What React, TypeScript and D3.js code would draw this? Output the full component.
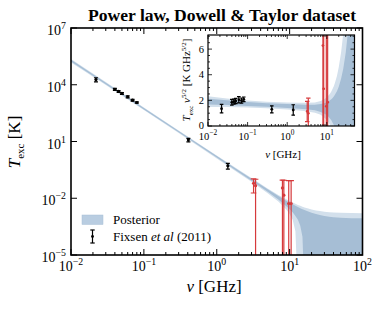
import React from "react";
import * as d3 from "d3";

const W = 382;
const H = 311;
const FONT = "'Liberation Serif', 'DejaVu Serif', serif";

// main panel box
const M = {left: 71, right: 362.5, top: 28, bottom: 255};
// inset box
const I = {left: 208, right: 354.5, top: 35, bottom: 126};

// low frequency data, T_exc in K
const obsFreq = [0.022, 0.04, 0.045, 0.05, 0.06, 0.07, 0.08, 0.408, 1.42];
const obsTemp = [18800, 5780, 4420, 3490, 2320, 1530, 1150, 12.2, 0.52];
const obsErr = [4600, 690, 470, 360, 280, 155, 100, 2.6, 0.17];

// ARCADE 2 points (red), T_exc in K
const arcFreq = [3.2, 3.41, 7.97, 8.33, 9.72, 10.49];
const arcTemp = [0.062, 0.046, 0.035, 0.0145, 0.0052, 0.0052];
const arcErr = [0.043, 0.055, 0.055, 0.075, 0.08, 0.08];

// posterior bands, as T_exc nu^{5/2} in K GHz^{5/2}
const bandFreq = [0.01, 0.03, 0.1, 0.3, 1, 2, 3, 5, 7, 9, 10, 11, 12, 13, 14, 15, 16, 18, 20, 23, 26, 30, 35, 40, 50, 70, 100];
const bandLo95 = [1.48, 1.49, 1.45, 1.38, 1.28, 1.2, 1.16, 1.04, 0.87, 0.61, 0.46, 0.29, 0.09, -0.14, -0.4, -0.68, -0.99, -1.7, -2.56, -4.06, -5.89, -8.86, -13.5, -19.3, -34.4, -81.1, -199];
const bandLo68 = [1.68, 1.64, 1.57, 1.5, 1.41, 1.35, 1.31, 1.22, 1.1, 0.93, 0.83, 0.72, 0.58, 0.44, 0.26, 0.08, -0.12, -0.58, -1.13, -2.12, -3.31, -5.24, -8.26, -12.0, -21.9, -52.2, -129];
const bandHi68 = [2.12, 2.0, 1.87, 1.78, 1.71, 1.68, 1.66, 1.66, 1.71, 1.8, 1.85, 1.92, 2.0, 2.09, 2.19, 2.3, 2.43, 2.72, 3.07, 3.7, 4.47, 5.72, 7.68, 10.1, 16.5, 36.3, 86.5];
const bandHi95 = [2.32, 2.15, 1.99, 1.9, 1.84, 1.82, 1.81, 1.84, 1.95, 2.13, 2.24, 2.37, 2.52, 2.69, 2.9, 3.11, 3.35, 3.91, 4.58, 5.77, 7.22, 9.58, 13.3, 17.9, 30.0, 67.3, 162];

const mainXTicks = [1e-2, 1e-1, 1, 10, 100];
const mainYTicks = [1e-5, 1e-2, 1e1, 1e4, 1e7];
const insetXTicks = [1e-2, 1e-1, 1, 10];
const insetYTicks = [0, 2, 4, 6];

const BAND_LIGHT = "#d3e0ec";
const BAND_DARK = "#a6bed5";
const RED = "#d63a3c";

const FLOOR = 1e-7;

function logMinor(lo: number, hi: number, max: number) {
    const out: number[] = [];
    for (let e = lo; e < hi; e++)
        for (let m = 2; m <= 9; m++) {
            const v = m * Math.pow(10, e);
            if (v <= max) out.push(v);
        }
    return out;
}

function Pow({x, y, e, size, anchor}: {x: number; y: number; e: number; size: number; anchor: string}) {
    const s = e < 0 ? "\u2212" + -e : String(e);
    return (
        <text x={x} y={y} fontSize={size} textAnchor={anchor} fontFamily={FONT}>
            10<tspan dy={-size * 0.42} fontSize={size * 0.7}>{s}</tspan>
        </text>
    );
}

function ErrBar({cx, cy, y0, y1, color, cap, r}: any) {
    return (
        <g stroke={color} strokeWidth={1.2} fill={color}>
            <line x1={cx} x2={cx} y1={y0} y2={y1}/>
            <line x1={cx - cap} x2={cx + cap} y1={y0} y2={y0}/>
            <line x1={cx - cap} x2={cx + cap} y1={y1} y2={y1}/>
            <circle cx={cx} cy={cy} r={r} stroke="none"/>
        </g>
    );
}

export default function App() {
    const x = d3.scaleLog().domain([1e-2, 1e2]).range([M.left, M.right]);
    const y = d3.scaleLog().domain([1e-5, 1e7]).range([M.bottom, M.top]);
    const ix = d3.scaleLog().domain([1e-2, 50]).range([I.left, I.right]);
    const iy = d3.scaleLinear().domain([0, 7.1]).range([I.bottom, I.top]);

    const idx = bandFreq.map((_, i) => i);
    const toT = (s: number, nu: number) => Math.max(s / Math.pow(nu, 2.5), FLOOR);

    const mainArea = (lo: number[], hi: number[]) =>
        d3.area<number>()
            .x(i => x(bandFreq[i]))
            .y0(i => y(toT(lo[i], bandFreq[i])))
            .y1(i => y(toT(hi[i], bandFreq[i])))(idx) || "";

    const insetArea = (lo: number[], hi: number[]) =>
        d3.area<number>()
            .x(i => ix(bandFreq[i]))
            .y0(i => iy(lo[i]))
            .y1(i => iy(hi[i]))(idx) || "";

    const mainMinor = logMinor(-2, 2, 100);
    const insetMinor = logMinor(-2, 2, 50);
    const insetYMinor = d3.range(0.5, 7.01, 0.5).filter(v => v % 2 !== 0);

    const scaled = (t: number, nu: number) => t * Math.pow(nu, 2.5);

    return (
        <svg width={W} height={H} style={{position: "absolute", left: 0, top: 0}} fontFamily={FONT}>
            <defs>
                <clipPath id="mainClip">
                    <rect x={M.left} y={M.top} width={M.right - M.left} height={M.bottom - M.top}/>
                </clipPath>
                <clipPath id="insetClip">
                    <rect x={I.left} y={I.top} width={I.right - I.left} height={I.bottom - I.top}/>
                </clipPath>
            </defs>
            <rect width={W} height={H} fill="#fff"/>

            <text x={222} y={21} textAnchor="middle" fontSize={16} fontWeight="bold"
                  textLength={268} lengthAdjust="spacingAndGlyphs">
                Power law, Dowell &amp; Taylor dataset
            </text>

            {/* main panel */}
            <g clipPath="url(#mainClip)">
                <path d={mainArea(bandLo95, bandHi95)} fill={BAND_LIGHT}/>
                <path d={mainArea(bandLo68, bandHi68)} fill={BAND_DARK}/>
                {obsFreq.map((f, i) => (
                    <ErrBar key={"o" + i} cx={x(f)} cy={y(obsTemp[i])}
                            y0={y(obsTemp[i] + obsErr[i])} y1={y(Math.max(obsTemp[i] - obsErr[i], FLOOR))}
                            color="#000" cap={2} r={1.6}/>
                ))}
                {arcFreq.map((f, i) => (
                    <ErrBar key={"a" + i} cx={x(f)} cy={y(arcTemp[i])}
                            y0={y(arcTemp[i] + arcErr[i])} y1={y(Math.max(arcTemp[i] - arcErr[i], FLOOR))}
                            color={RED} cap={2.8} r={1.6}/>
                ))}
            </g>

            {/* main ticks */}
            <g stroke="#000" strokeWidth={1}>
                {mainXTicks.map(t => (
                    <g key={"mx" + t}>
                        <line x1={x(t)} x2={x(t)} y1={M.bottom} y2={M.bottom - 6}/>
                        <line x1={x(t)} x2={x(t)} y1={M.top} y2={M.top + 6}/>
                    </g>
                ))}
                {mainMinor.map(t => (
                    <g key={"mm" + t}>
                        <line x1={x(t)} x2={x(t)} y1={M.bottom} y2={M.bottom - 3}/>
                        <line x1={x(t)} x2={x(t)} y1={M.top} y2={M.top + 3}/>
                    </g>
                ))}
                {mainYTicks.map(t => (
                    <g key={"my" + t}>
                        <line x1={M.left} x2={M.left + 6} y1={y(t)} y2={y(t)}/>
                        <line x1={M.right} x2={M.right - 6} y1={y(t)} y2={y(t)}/>
                    </g>
                ))}
            </g>
            <rect x={M.left} y={M.top} width={M.right - M.left} height={M.bottom - M.top}
                  fill="none" stroke="#000" strokeWidth={1.6}/>

            {mainXTicks.map(t => (
                <Pow key={"lx" + t} x={x(t)} y={271} e={Math.round(Math.log10(t))} size={14} anchor="middle"/>
            ))}
            {mainYTicks.map(t => (
                <Pow key={"ly" + t} x={66} y={y(t) + 7} e={Math.round(Math.log10(t))} size={14} anchor="end"/>
            ))}

            <text x={214} y={292} textAnchor="middle" fontSize={17}>
                <tspan fontStyle="italic">ν</tspan> [GHz]
            </text>
            <text transform="translate(20,142) rotate(-90)" textAnchor="middle" fontSize={17}>
                <tspan fontStyle="italic">T</tspan>
                <tspan fontSize={11} dy={4}>exc</tspan>
                <tspan dy={-4}> [K]</tspan>
            </text>

            {/* legend */}
            <rect x={82} y={215} width={21} height={9.5} fill="#b9cde1" stroke="#a9c0d6" strokeWidth={0.5}/>
            <text x={113} y={224} fontSize={13}>Posterior</text>
            <ErrBar cx={92.5} cy={236.5} y0={230} y1={243} color="#000" cap={2.2} r={1.4}/>
            <text x={113} y={240.5} fontSize={13}>
                Fixsen <tspan fontStyle="italic">et al</tspan> (2011)
            </text>

            {/* inset */}
            <rect x={I.left} y={I.top} width={I.right - I.left} height={I.bottom - I.top} fill="#fff"/>
            <g clipPath="url(#insetClip)">
                <path d={insetArea(bandLo95, bandHi95)} fill={BAND_LIGHT}/>
                <path d={insetArea(bandLo68, bandHi68)} fill={BAND_DARK}/>
                {obsFreq.map((f, i) => (
                    <ErrBar key={"io" + i} cx={ix(f)} cy={iy(scaled(obsTemp[i], f))}
                            y0={iy(scaled(obsTemp[i] + obsErr[i], f))} y1={iy(scaled(obsTemp[i] - obsErr[i], f))}
                            color="#000" cap={1.8} r={1.4}/>
                ))}
                {arcFreq.map((f, i) => (
                    <ErrBar key={"ia" + i} cx={ix(f)} cy={iy(scaled(arcTemp[i], f))}
                            y0={iy(scaled(arcTemp[i] + arcErr[i], f))} y1={iy(scaled(arcTemp[i] - arcErr[i], f))}
                            color={RED} cap={2.2} r={1.4}/>
                ))}
            </g>
            <g stroke="#000" strokeWidth={0.8}>
                {insetXTicks.map(t => (
                    <g key={"ixt" + t}>
                        <line x1={ix(t)} x2={ix(t)} y1={I.bottom} y2={I.bottom - 4}/>
                        <line x1={ix(t)} x2={ix(t)} y1={I.top} y2={I.top + 4}/>
                    </g>
                ))}
                {insetMinor.map(t => (
                    <g key={"ixm" + t}>
                        <line x1={ix(t)} x2={ix(t)} y1={I.bottom} y2={I.bottom - 2}/>
                        <line x1={ix(t)} x2={ix(t)} y1={I.top} y2={I.top + 2}/>
                    </g>
                ))}
                {insetYTicks.map(t => (
                    <g key={"iyt" + t}>
                        <line x1={I.left} x2={I.left + 4} y1={iy(t)} y2={iy(t)}/>
                        <line x1={I.right} x2={I.right - 4} y1={iy(t)} y2={iy(t)}/>
                    </g>
                ))}
                {insetYMinor.map(t => (
                    <g key={"iym" + t}>
                        <line x1={I.left} x2={I.left + 2} y1={iy(t)} y2={iy(t)}/>
                        <line x1={I.right} x2={I.right - 2} y1={iy(t)} y2={iy(t)}/>
                    </g>
                ))}
            </g>
            <rect x={I.left} y={I.top} width={I.right - I.left} height={I.bottom - I.top}
                  fill="none" stroke="#000" strokeWidth={1.2}/>

            {insetXTicks.map(t => (
                <Pow key={"ilx" + t} x={ix(t)} y={139.5} e={Math.round(Math.log10(t))} size={10.5} anchor="middle"/>
            ))}
            {insetYTicks.map(t => (
                <text key={"ily" + t} x={204} y={iy(t) + (t === 0 ? 2.5 : 3.6)} fontSize={10.5} textAnchor="end">{t}</text>
            ))}
            <text x={283} y={158} textAnchor="middle" fontSize={11}>
                <tspan fontStyle="italic">ν</tspan> [GHz]
            </text>
            <text transform="translate(190,80) rotate(-90)" textAnchor="middle" fontSize={11}>
                <tspan fontStyle="italic">T</tspan>
                <tspan fontSize={7} dy={2.5}>exc</tspan>
                <tspan dy={-2.5} fontStyle="italic"> ν</tspan>
                <tspan fontSize={7} dy={-4.5}>5/2</tspan>
                <tspan dy={4.5}> [K GHz</tspan>
                <tspan fontSize={7} dy={-4.5}>5/2</tspan>
                <tspan dy={4.5}>]</tspan>
            </text>
        </svg>
    );
}
